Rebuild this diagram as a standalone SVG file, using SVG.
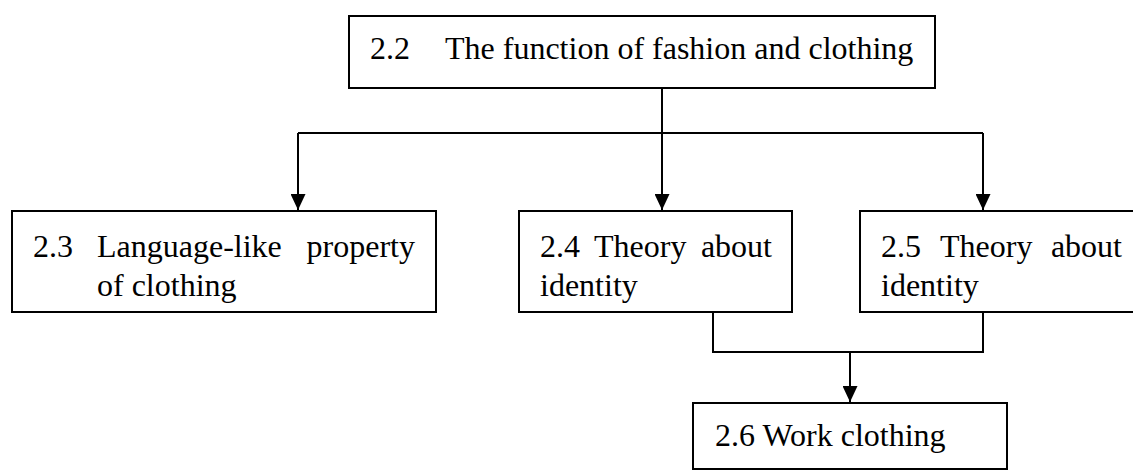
<svg xmlns="http://www.w3.org/2000/svg" width="1133" height="471" viewBox="0 0 1133 471">
<style>
.box{fill:#fff;stroke:#000;stroke-width:2}
.t{font-family:"Liberation Serif","Times New Roman",serif;font-size:32px;fill:#000}
.c{fill:none;stroke:#000;stroke-width:2}
</style>
<defs>
<marker id="ah" viewBox="0 0 16 15" refX="16" refY="7.5" markerWidth="16" markerHeight="15" markerUnits="userSpaceOnUse" orient="auto">
<path d="M0,0 L16,7.5 L0,15 Z" fill="#000"/>
</marker>
</defs>
<rect width="1133" height="471" fill="#fff"/>
<g id="n22">
<rect class="box" x="349" y="16" width="586" height="72"/>
<text class="t" x="370" y="59">2.2</text>
<text class="t" x="445" y="59">The function of fashion and clothing</text>
</g>
<g id="n23">
<rect class="box" x="12" y="211" width="424" height="101"/>
<text class="t" x="33" y="257">2.3</text>
<text class="t" x="97" y="257">Language-like</text>
<text class="t" x="415" y="257" text-anchor="end">property</text>
<text class="t" x="97" y="296">of clothing</text>
</g>
<g id="n24">
<rect class="box" x="519" y="211" width="273" height="101"/>
<text class="t" x="540" y="257">2.4</text>
<text class="t" x="594" y="257">Theory</text>
<text class="t" x="772" y="257" text-anchor="end">about</text>
<text class="t" x="540" y="296">identity</text>
</g>
<g id="n25">
<rect class="box" x="860" y="211" width="290" height="101"/>
<text class="t" x="881" y="257">2.5</text>
<text class="t" x="940" y="257">Theory</text>
<text class="t" x="1122" y="257" text-anchor="end">about</text>
<text class="t" x="881" y="296">identity</text>
</g>
<g id="n26">
<rect class="box" x="693" y="403" width="314" height="66"/>
<text class="t" x="715" y="446">2.6 Work clothing</text>
</g>
<g id="connectors">
<path class="c" d="M662,88 V133"/>
<path class="c" d="M298,133 H983"/>
<path class="c" d="M298,133 V210" marker-end="url(#ah)"/>
<path class="c" d="M662,133 V210" marker-end="url(#ah)"/>
<path class="c" d="M983,133 V210" marker-end="url(#ah)"/>
<path class="c" d="M713,312 V352 H983 V312"/>
<path class="c" d="M850,352 V402" marker-end="url(#ah)"/>
</g>
</svg>
